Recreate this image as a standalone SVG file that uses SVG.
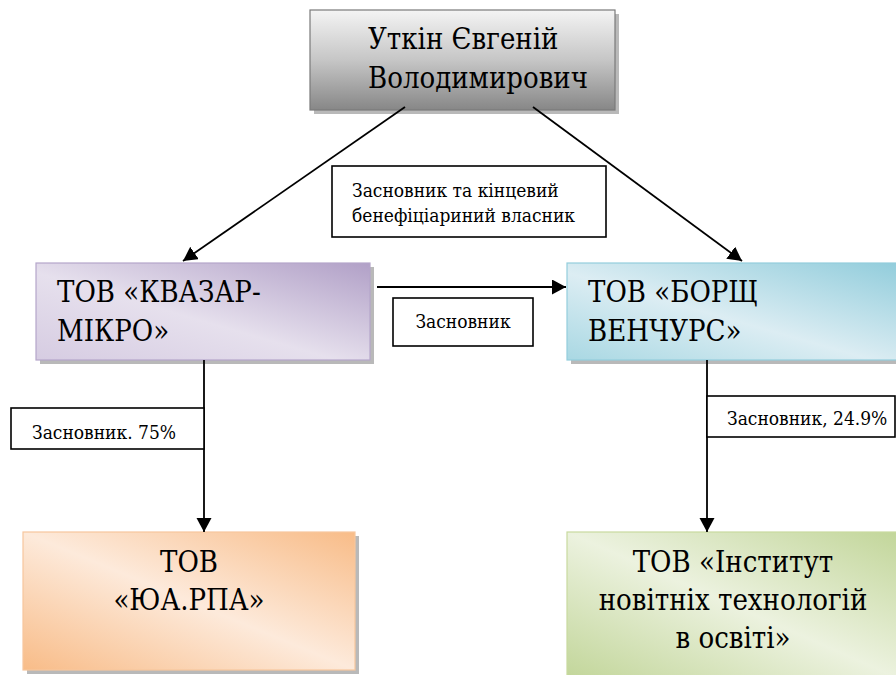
<svg xmlns="http://www.w3.org/2000/svg" width="896" height="675" viewBox="0 0 896 675">
<style>
.big{font-family:"DejaVu Serif Condensed","DejaVu Serif",serif;font-stretch:condensed;font-size:29px;fill:#000}
.lbl{font-family:"DejaVu Serif Condensed","DejaVu Serif",serif;font-stretch:condensed;font-size:19px;fill:#000}
.lbox{fill:#fff;stroke:#000;stroke-width:1.6}
.shadow{fill:#7f7f7f;opacity:0.55}
.conn{stroke:#000;stroke-width:1.8;fill:none}
</style>
<defs>
<linearGradient id="gGray" x1="0" y1="0" x2="0" y2="1">
<stop offset="0" stop-color="#f4f4f4"/><stop offset="0.5" stop-color="#c6c6c6"/><stop offset="1" stop-color="#878787"/>
</linearGradient>
<linearGradient id="gPurple" x1="1" y1="0" x2="0" y2="1">
<stop offset="0" stop-color="#b1a0c7"/><stop offset="0.55" stop-color="#e6e0ed"/><stop offset="1" stop-color="#d6cce2"/>
</linearGradient>
<linearGradient id="gBlue" x1="1" y1="0" x2="0" y2="1">
<stop offset="0" stop-color="#90ccdb"/><stop offset="0.55" stop-color="#dcedf3"/><stop offset="1" stop-color="#a9d8e3"/>
</linearGradient>
<linearGradient id="gOrange" x1="1" y1="0" x2="0" y2="1">
<stop offset="0" stop-color="#f8bc88"/><stop offset="0.5" stop-color="#fdeadb"/><stop offset="1" stop-color="#f8bc88"/>
</linearGradient>
<linearGradient id="gGreen" x1="1" y1="0" x2="0" y2="1">
<stop offset="0" stop-color="#c1d598"/><stop offset="0.5" stop-color="#ecf2df"/><stop offset="1" stop-color="#c1d598"/>
</linearGradient>
<marker id="arr" markerUnits="userSpaceOnUse" markerWidth="16" markerHeight="16" refX="14" refY="7.5" orient="auto">
<path d="M0,0 L14,7.5 L0,15 z" fill="#000"/>
</marker>
</defs>

<g id="node-utkin">
<rect class="shadow" x="314" y="14" width="305" height="100"/>
<rect x="310" y="10" width="305" height="100" fill="url(#gGray)" stroke="#7a7a7a" stroke-width="1.2"/>
<text class="big" x="368" y="49">Уткін Євгеній</text>
<text class="big" x="368" y="88">Володимирович</text>
</g>

<g id="node-kvazar">
<rect class="shadow" x="40" y="267" width="334" height="97"/>
<rect x="36" y="263" width="334" height="97" fill="url(#gPurple)" stroke="#b5a6ca" stroke-width="1.2"/>
<text class="big" x="57" y="302">ТОВ «КВАЗАР-</text>
<text class="big" x="57" y="341">МІКРО»</text>
</g>

<g id="node-borsch">
<rect class="shadow" x="571" y="267" width="340" height="97"/>
<rect x="567" y="263" width="340" height="97" fill="url(#gBlue)" stroke="#93cddc" stroke-width="1.2"/>
<text class="big" x="588" y="302">ТОВ «БОРЩ</text>
<text class="big" x="588" y="341">ВЕНЧУРС»</text>
</g>

<g id="node-yua">
<rect class="shadow" x="27" y="536" width="332" height="138"/>
<rect x="23" y="532" width="332" height="138" fill="url(#gOrange)" stroke="#f7c69d" stroke-width="1.2"/>
<text class="big" x="189" y="572" text-anchor="middle">ТОВ</text>
<text class="big" x="189" y="610" text-anchor="middle">«ЮА.РПА»</text>
</g>

<g id="node-institut">
<rect x="567" y="532" width="340" height="150" fill="url(#gGreen)" stroke="#c8da9f" stroke-width="1.2"/>
<text class="big" x="733" y="572" text-anchor="middle">ТОВ «Інститут</text>
<text class="big" x="733" y="610" text-anchor="middle">новітніх технологій</text>
<text class="big" x="733" y="648" text-anchor="middle">в освіті»</text>
</g>

<g id="connectors">
<line class="conn" x1="405" y1="107" x2="183" y2="261" marker-end="url(#arr)"/>
<line class="conn" x1="533" y1="107" x2="742" y2="261" marker-end="url(#arr)"/>
<line class="conn" x1="377" y1="287" x2="566" y2="287" marker-end="url(#arr)"/>
<line class="conn" x1="204" y1="360" x2="204" y2="532" marker-end="url(#arr)"/>
<line class="conn" x1="707" y1="360" x2="707" y2="532" marker-end="url(#arr)"/>
</g>

<g id="label-founder-owner">
<rect class="lbox" x="332" y="166" width="274" height="71"/>
<text class="lbl" x="352" y="197">Засновник та кінцевий</text>
<text class="lbl" x="352" y="222">бенефіціариний власник</text>
</g>
<g id="label-founder">
<rect class="lbox" x="393" y="298" width="140" height="48"/>
<text class="lbl" x="463" y="328" text-anchor="middle">Засновник</text>
</g>
<g id="label-75">
<rect class="lbox" x="11" y="408" width="193" height="41"/>
<text class="lbl" x="32" y="439">Засновник. 75%</text>
</g>
<g id="label-249">
<rect class="lbox" x="707" y="396" width="188" height="41"/>
<text class="lbl" x="727" y="425">Засновник, 24.9%</text>
</g>
</svg>
